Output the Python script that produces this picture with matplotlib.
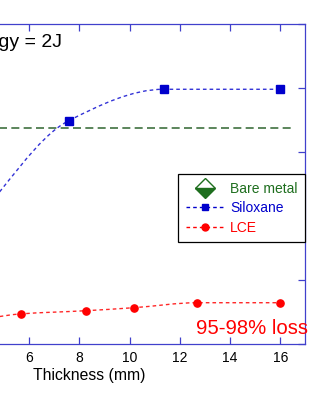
import matplotlib
matplotlib.use("Agg")
import numpy as np
import matplotlib.pyplot as plt
from matplotlib.path import Path
from matplotlib.patches import PathPatch
from matplotlib.lines import Line2D

plt.rcParams['font.family'] = ['Liberation Sans', 'DejaVu Sans']

# Measured data
thickness_siloxane = [3.8, 7.58, 11.36, 16.0]
value_siloxane = [1.90, 3.49, 3.98, 3.98]
thickness_lce = [3.0, 5.66, 8.25, 10.16, 12.7, 16.0]
value_lce = [0.30, 0.47, 0.52, 0.567, 0.645, 0.645]
bare_metal_value = 3.375
bare_metal_span = [0.0, 16.5]
x_ticks = [0, 2, 4, 6, 8, 10, 12, 14, 16]
y_ticks = [0, 1, 2, 3, 4, 5]

BLUE = '#0000cc'
RED = '#ff0000'
GREEN = '#1e6e1e'
GREEN_LINE = '#3f713f'
AXIS = '#4040cc'


def smooth_path(x, y):
    """Monotone cubic Bezier path passing through every point."""
    x = np.asarray(x, float)
    y = np.asarray(y, float)
    h = np.diff(x)
    d = np.diff(y) / h
    n = len(x)
    m = np.zeros(n)
    m[0], m[-1] = d[0], d[-1]
    for i in range(1, n - 1):
        if d[i - 1] * d[i] <= 0:
            m[i] = 0.0
        else:
            w1 = 2 * h[i] + h[i - 1]
            w2 = h[i] + 2 * h[i - 1]
            m[i] = (w1 + w2) / (w1 / d[i - 1] + w2 / d[i])
    verts = [(x[0], y[0])]
    codes = [Path.MOVETO]
    for i in range(n - 1):
        verts += [(x[i] + h[i] / 3, y[i] + m[i] * h[i] / 3),
                  (x[i + 1] - h[i] / 3, y[i + 1] - m[i + 1] * h[i] / 3),
                  (x[i + 1], y[i + 1])]
        codes += [Path.CURVE4] * 3
    return Path(verts, codes)


fig = plt.figure(figsize=(3.24, 4.0), dpi=100)
ax = fig.add_axes([-0.37531, 0.14, 1.31821, 0.80])

blue_ls = (0, (2.6, 2.2))
red_ls = (0, (2.6, 2.2))
green_ls = (0, (4.8, 2.6))

# Bare metal reference level
ax.plot(bare_metal_span, [bare_metal_value] * 2, color=GREEN_LINE, lw=1.2, ls=green_ls)
ax.plot([bare_metal_span[0]], [bare_metal_value], ls='none', marker='D', ms=10,
        color=GREEN, mfc=GREEN, mfcalt='white', fillstyle='bottom', mec=GREEN)

# Siloxane
ax.add_patch(PathPatch(smooth_path(thickness_siloxane, value_siloxane), fill=False,
                       edgecolor=BLUE, lw=1.0, ls=blue_ls, alpha=0.8))
ax.plot(thickness_siloxane, value_siloxane, ls='none', marker='s', ms=5.5, color=BLUE)

# LCE
ax.add_patch(PathPatch(smooth_path(thickness_lce, value_lce), fill=False,
                       edgecolor=RED, lw=1.0, ls=red_ls, alpha=0.85))
ax.plot(thickness_lce, value_lce, ls='none', marker='o', ms=5.2, color=RED)

ax.set_xlim(0, 17)
ax.set_ylim(0, 5)
ax.set_xticks(x_ticks)
ax.set_yticks(y_ticks)
for s in ax.spines.values():
    s.set_color(AXIS)
    s.set_linewidth(0.9)
ax.tick_params(direction='in', top=True, right=True, length=5, width=0.9,
               color=AXIS, labelsize=10, pad=5)
ax.set_xlabel('Thickness (mm)', fontsize=11.3, labelpad=2)
ax.xaxis.set_label_coords(0.4925, -0.075)

ax.text(7.29, 4.633, 'Energy = 2J', ha='right', va='baseline', fontsize=14)
ax.text(17.09, 0.156, '95-98% loss', ha='right', va='baseline', fontsize=14.6, color=RED)

handles = [
    Line2D([], [], ls='none', marker='D', ms=10, color=GREEN, mfc=GREEN,
           mfcalt='white', fillstyle='bottom', mec=GREEN),
    Line2D([], [], ls=blue_ls, lw=1.0, color=BLUE, marker='s', ms=5),
    Line2D([], [], ls=red_ls, lw=1.0, color=RED, marker='o', ms=5),
]
leg = ax.legend(handles, ['Bare metal', 'Siloxane', 'LCE'], loc='upper right',
                bbox_to_anchor=(1.0, 0.531), borderaxespad=0, fontsize=10,
                handlelength=2.76, handletextpad=0.45, borderpad=0.55,
                labelspacing=0.4, fancybox=False, framealpha=1, numpoints=1)
leg.get_frame().set_edgecolor('black')
leg.get_frame().set_linewidth(0.9)
for t, c in zip(leg.get_texts(), [GREEN, BLUE, RED]):
    t.set_color(c)

fig.savefig('out.png', dpi=100)
